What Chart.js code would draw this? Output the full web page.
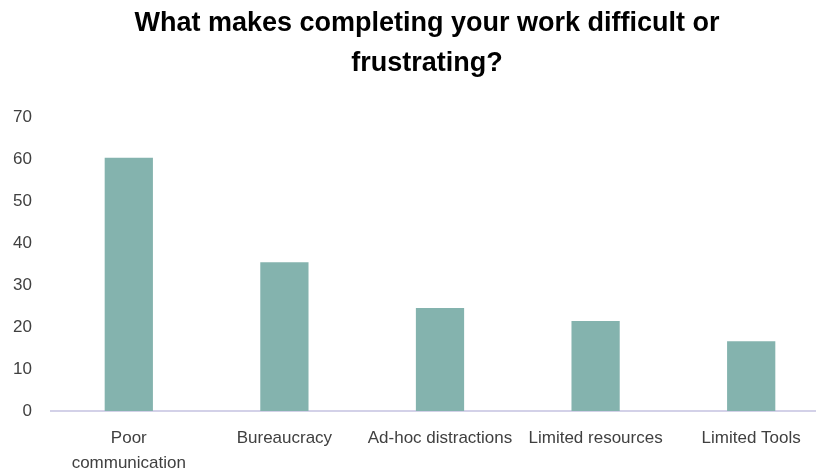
<!DOCTYPE html>
<html>
<head>
<meta charset="utf-8">
<script src="https://cdn.jsdelivr.net/npm/chart.js@4"></script>
<style>
  html, body { margin: 0; padding: 0; background: #fff; overflow: hidden; }
  #wrap { position: relative; width: 854px; height: 472px; }
</style>
</head>
<body>
<div id="wrap"><canvas id="c"></canvas></div>
<script>
const categories = [['Poor', 'communication'], 'Bureaucracy', 'Ad-hoc distractions', 'Limited resources', 'Limited Tools'];
const values = [60.3, 35.4, 24.5, 21.4, 16.6];
const titleLines = ['What makes completing your work difficult or', 'frustrating?'];

const FONT = '"Liberation Sans", Arial, sans-serif';

new Chart(document.getElementById('c'), {
  type: 'bar',
  data: {
    labels: categories,
    datasets: [{
      data: values,
      backgroundColor: '#84b3ae',
      borderWidth: 0,
      categoryPercentage: 1,
      barPercentage: 0.31
    }]
  },
  options: {
    responsive: true,
    maintainAspectRatio: false,
    animation: false,
    layout: { padding: 0 },
    plugins: {
      legend: { display: false },
      tooltip: { enabled: false },
      title: {
        display: true,
        text: titleLines,
        color: '#000',
        font: { family: FONT, size: 27, weight: 'bold', lineHeight: 40 / 27 },
        padding: { top: 4, bottom: 33 }
      }
    },
    scales: {
      x: {
        afterFit: s => { s.height = 61; },
        grid: { display: false, drawTicks: false },
        border: { display: true, color: '#d3d1e8', width: 2 },
        ticks: { color: '#404040', font: { family: FONT, size: 17, lineHeight: 25 / 17 }, padding: 15, maxRotation: 0, autoSkip: false }
      },
      y: {
        min: 0, max: 70,
        afterFit: s => { s.width = 51; },
        grid: { display: false, drawTicks: false },
        border: { display: false },
        ticks: { stepSize: 10, color: '#404040', font: { family: FONT, size: 17 }, padding: 19 }
      },
      yRight: {
        display: true,
        position: 'right',
        afterFit: s => { s.width = 25; },
        grid: { display: false, drawTicks: false },
        border: { display: false },
        ticks: { display: false }
      }
    }
  }
});
</script>
</body>
</html>
